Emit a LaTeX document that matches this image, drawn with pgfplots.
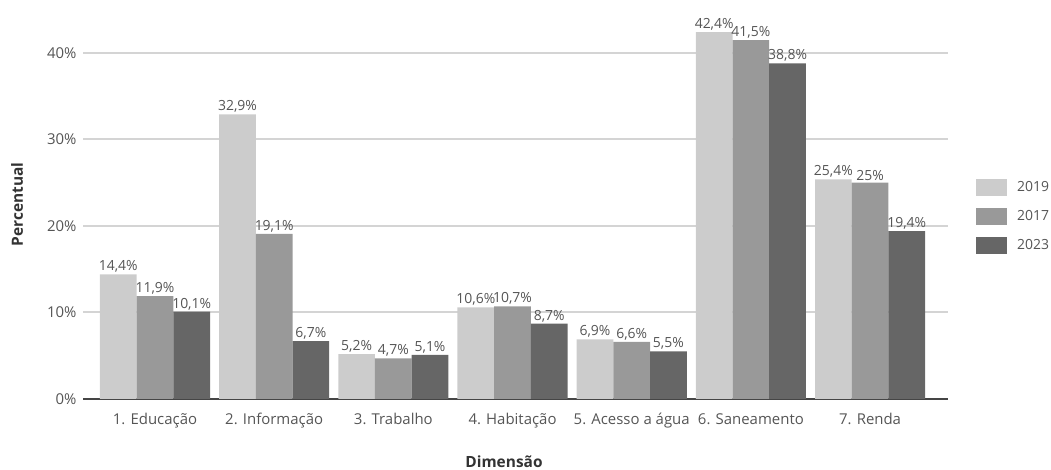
\documentclass[border=0pt]{standalone}
\usepackage{pgfplots}
\pgfplotsset{compat=1.18}
\usepackage{fontspec}
\setmainfont{Open Sans}
\definecolor{cA}{HTML}{CCCCCC}
\definecolor{cB}{HTML}{999999}
\definecolor{cC}{HTML}{666666}
\definecolor{gridc}{HTML}{D4D4D4}
\definecolor{tickc}{HTML}{555555}
\definecolor{labc}{HTML}{333333}
\pgfplotsset{sqlegend/.style={legend image code/.code={\fill[##1] (0bp,-8.5bp) rectangle (31bp,8.5bp);}}}
\begin{document}
\begin{tikzpicture}[x=1bp,y=1bp]
\path[use as bounding box] (0,0) rectangle (1051,470);
\begin{axis}[
  at={(83bp,71bp)}, anchor=south west,
  scale only axis, width=865bp, height=389.25bp,
  ymin=0, ymax=45, xmin=-0.604, xmax=6.654,
  ybar=0pt, bar width=36.7bp,
  axis x line*=bottom, axis y line*=left,
  x axis line style={draw=black!73, line width=2bp},
  y axis line style={draw=none},
  ytick={0,10,20,30,40},
  yticklabel={\pgfmathprintnumber{\tick}\%},
  /pgf/number format/assume math mode=true,
  ymajorgrids, grid style={color=gridc, line width=2bp},
  major tick length=0pt,
  xtick={0,...,6},
  xticklabels={1. Educação,2. Informação,3. Trabalho,4. Habitação,5. Acesso a água,6. Saneamento,7. Renda},
  tick label style={font=\fontsize{15}{17}\selectfont, color=tickc},
  xticklabel style={yshift=-11bp},
  yticklabel style={xshift=-3bp},
  nodes near coords={\pgfmathprintnumber[fixed,precision=1,use comma]{\pgfplotspointmeta}\%},
  every node near coord/.append style={font=\fontsize{14}{16}\selectfont, color=tickc, inner sep=1.5bp},
  xlabel={Dimensão}, ylabel={Percentual},
  x label style={at={(axis description cs:0.4867,0)}, anchor=center, yshift=-63bp, font=\bfseries\fontsize{15.5}{17}\selectfont, color=labc},
  y label style={at={(axis description cs:-0.0763,0.5)}, anchor=center, font=\bfseries\fontsize{15.5}{17}\selectfont, color=labc},
  legend style={at={(1.0324,0.5656)}, anchor=north west, draw=none, fill=none, inner sep=0pt, row sep=12bp,
    font=\fontsize{14}{16}\selectfont, text=tickc, nodes={inner sep=0pt, anchor=west},
    /tikz/every odd column/.append style={column sep=10bp}},
]
\addplot[fill=cA, draw=none, sqlegend] coordinates {(0,14.4) (1,32.9) (2,5.2) (3,10.6) (4,6.9) (5,42.4) (6,25.4)};
\addplot[fill=cB, draw=none, sqlegend] coordinates {(0,11.9) (1,19.1) (2,4.7) (3,10.7) (4,6.6) (5,41.5) (6,25.0)};
\addplot[fill=cC, draw=none, sqlegend] coordinates {(0,10.1) (1,6.7) (2,5.1) (3,8.7) (4,5.5) (5,38.8) (6,19.4)};
\legend{2019,2017,2023}
\end{axis}
\end{tikzpicture}
\end{document}
